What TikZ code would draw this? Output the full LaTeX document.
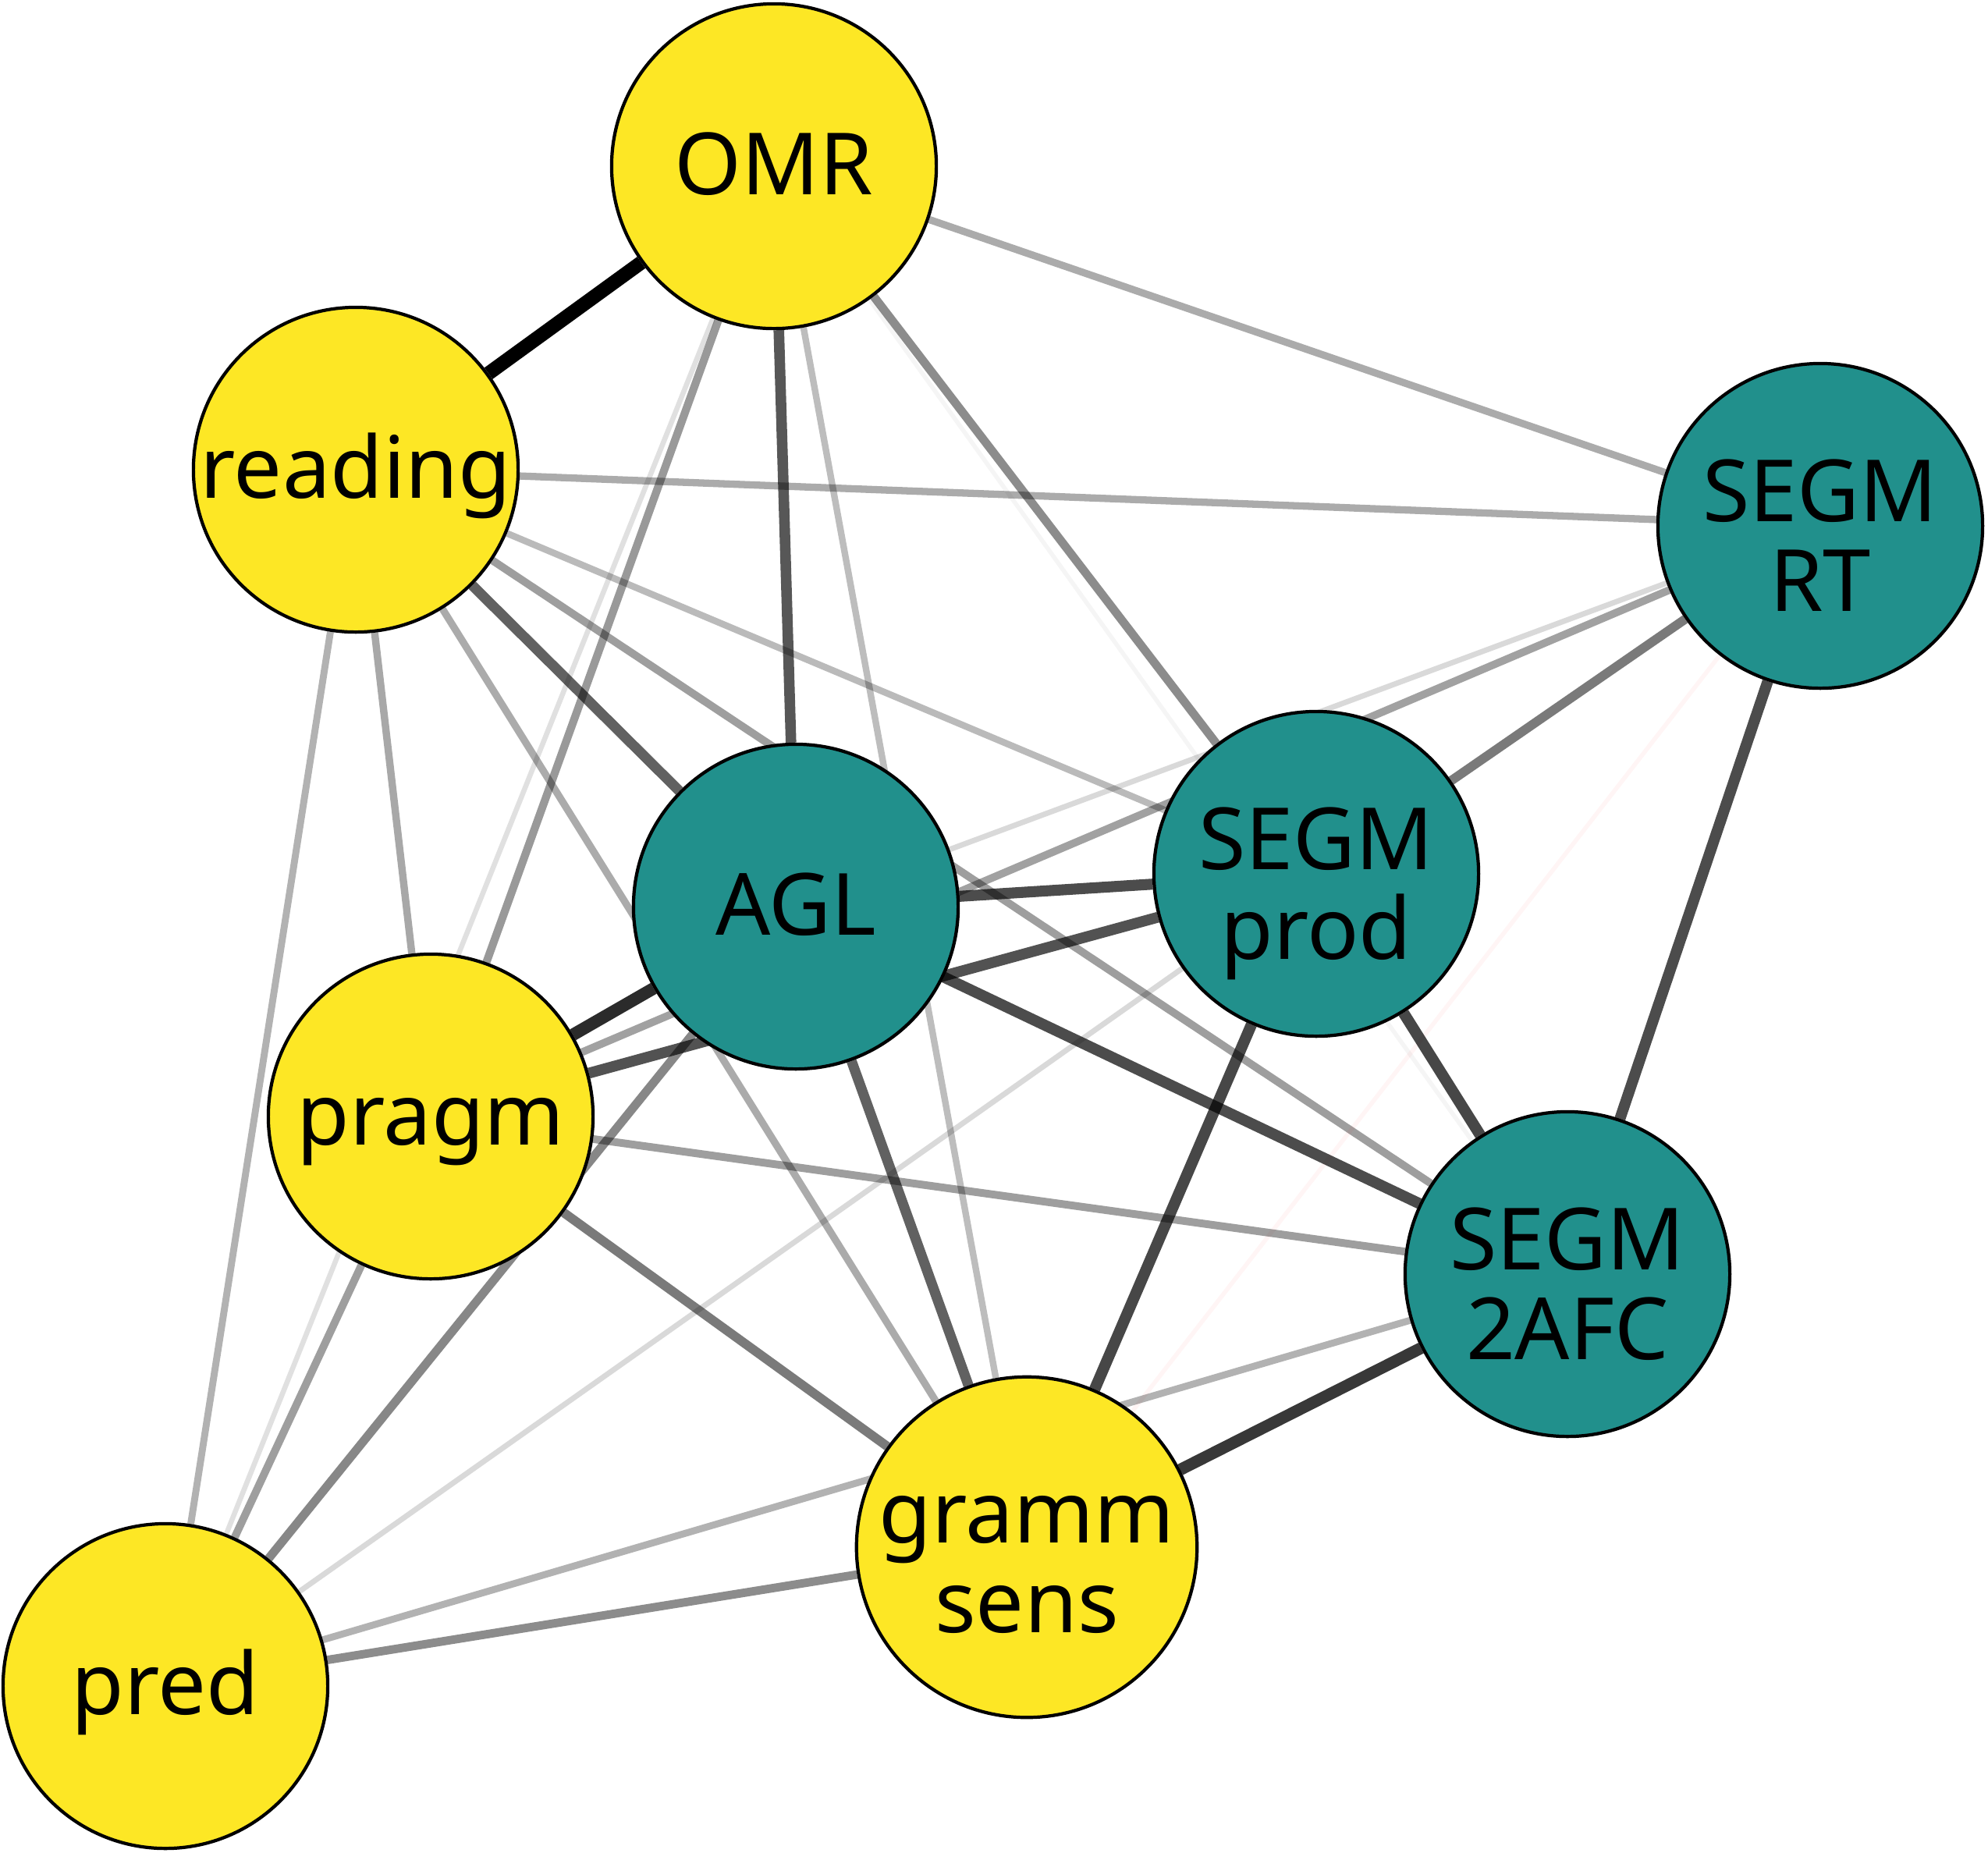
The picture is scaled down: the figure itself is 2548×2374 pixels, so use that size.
\documentclass[tikz,border=0pt]{standalone}
\usepackage{fontspec}
\setmainfont{Noto Sans}
\usetikzlibrary{backgrounds}
\definecolor{vyel}{HTML}{FDE725}
\definecolor{vteal}{HTML}{21908C}
\tikzset{
  vnode/.style={circle, draw=black, line width=1.2pt, minimum size=4.16cm, inner sep=0pt,
    font=\fontsize{31.3}{32.7}\selectfont, text height=20.5pt, text depth=0pt},
  twoline/.style={align=center, text height=62pt},
  ynode/.style={vnode, fill=vyel},
  tnode/.style={vnode, fill=vteal},
}
\newcommand\edg[4][black]{\draw[draw=#1, line width={(5+13*#4)*0.2845pt}, draw opacity=#4] (#2) -- (#3);}
\begin{document}
\begin{tikzpicture}[x=0.01cm,y=-0.01cm]
\useasboundingbox (0,0) rectangle (2548,2374);
\node[ynode] (omr) at (992,213) {OMR};
\node[ynode] (read) at (456,602) {reading};
\node[tnode,twoline] (rt) at (2333,674) {SEGM\\RT};
\node[tnode] (agl) at (1020,1162) {AGL};
\node[tnode,twoline] (prod) at (1687,1120) {SEGM\\prod};
\node[ynode] (prag) at (552,1431) {pragm};
\node[tnode,twoline] (afc) at (2009,1633) {SEGM\\2AFC};
\node[ynode,twoline] (gram) at (1316,1983) {gramm\\sens};
\node[ynode] (pred) at (212,2161) {pred};
\begin{scope}[on background layer]
\edg{omr}{read}{1.0}
\edg{omr}{rt}{0.33}
\edg{omr}{agl}{0.66}
\edg{omr}{prod}{0.45}
\edg{omr}{prag}{0.40}
\edg{omr}{afc}{0.04}
\edg{omr}{gram}{0.26}
\edg{omr}{pred}{0.12}
\edg{read}{rt}{0.33}
\edg{read}{agl}{0.62}
\edg{read}{prod}{0.27}
\edg{read}{prag}{0.34}
\edg{read}{afc}{0.38}
\edg{read}{gram}{0.33}
\edg{read}{pred}{0.30}
\edg{rt}{agl}{0.15}
\edg{rt}{prod}{0.52}
\edg{rt}{prag}{0.37}
\edg{rt}{afc}{0.70}
\edg[red]{rt}{gram}{0.04}
\edg{agl}{prod}{0.70}
\edg{agl}{prag}{0.83}
\edg{agl}{afc}{0.70}
\edg{agl}{gram}{0.62}
\edg{agl}{pred}{0.47}
\edg{prod}{prag}{0.68}
\edg{prod}{afc}{0.72}
\edg{prod}{gram}{0.72}
\edg{prod}{pred}{0.15}
\edg{prag}{afc}{0.38}
\edg{prag}{gram}{0.52}
\edg{prag}{pred}{0.38}
\edg{afc}{gram}{0.78}
\edg{afc}{pred}{0.30}
\edg{gram}{pred}{0.45}
\end{scope}
\end{tikzpicture}
\end{document}
